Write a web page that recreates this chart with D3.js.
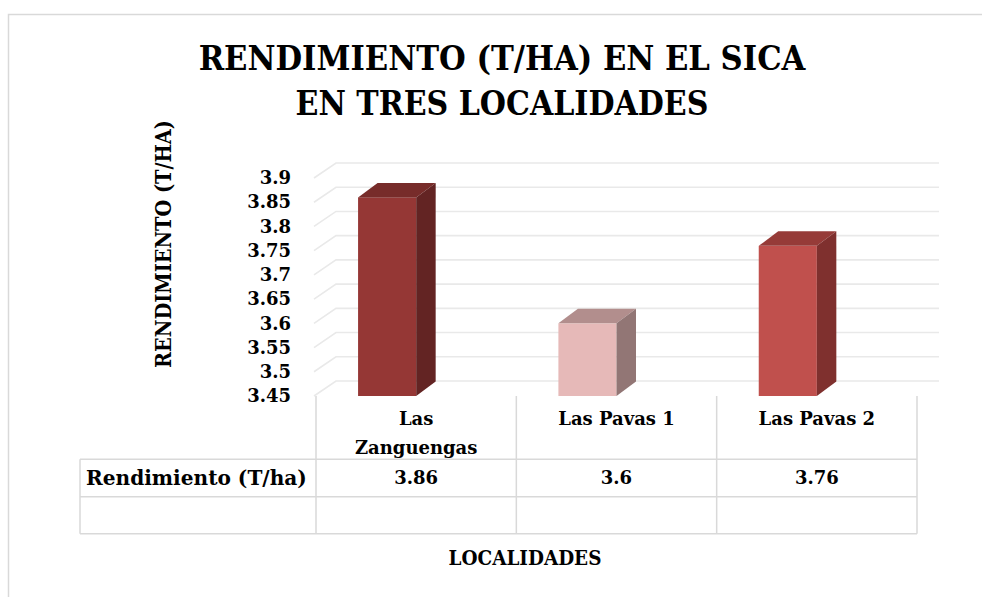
<!DOCTYPE html>
<html>
<head>
<meta charset="utf-8">
<script src="https://cdn.jsdelivr.net/npm/d3@7"></script>
<style>
    body { margin: 0; background: #fff; }
    svg text { font-family: 'DejaVu Serif', serif; font-weight: bold; fill: #000; }
    svg text.cond { font-family: 'DejaVu Serif Condensed', 'DejaVu Serif', serif; font-stretch: condensed; }
</style>
</head>
<body>
<div id="chart"></div>
<script>
// data
const categories = ['Las Zanguengas', 'Las Pavas 1', 'Las Pavas 2'];
const categoryLines = [['Las', 'Zanguengas'], ['Las Pavas 1'], ['Las Pavas 2']];
const values = [3.86, 3.6, 3.76];
const valueLabels = ['3.86', '3.6', '3.76'];
const yTicks = [3.45, 3.5, 3.55, 3.6, 3.65, 3.7, 3.75, 3.8, 3.85, 3.9];
const yTickLabels = ['3.45', '3.5', '3.55', '3.6', '3.65', '3.7', '3.75', '3.8', '3.85', '3.9'];
const seriesName = 'Rendimiento (T/ha)';
const titleLines = ['RENDIMIENTO (T/HA) EN EL SICA', 'EN TRES LOCALIDADES'];
const yTitle = 'RENDIMIENTO (T/HA)';
const xTitle = 'LOCALIDADES';

// front / top / side shades for each bar
const barColors = [
    { front: '#953735', top: '#772c2a', side: '#632423' },
    { front: '#e6b9b8', top: '#b28e8d', side: '#927675' },
    { front: '#c0504d', top: '#963b38', side: '#7f302e' }
];

class BarChart3D {

    constructor() {
        this.width = 982;
        this.height = 597;
        this.svg = d3.select('#chart').append('svg')
            .attr('width', this.width)
            .attr('height', this.height);

        this.x = d3.scaleBand()
            .domain(categories)
            .range([316, 917])
            .padding(0);
        this.y = d3.scaleLinear()
            .domain([3.45, 3.9])
            .range([396, 178]);

        this.depth = { dx: 22, dy: -15 };    // wall depth
        this.barDepth = { dx: 19.5, dy: -14.5 };
        this.gridColor = '#e9e9e9';
        this.lineColor = '#d9d9d9';
        this.draw();
    }

    // shrink or grow the font so the text spans the wanted width
    fit(sel, target) {
        let size = parseFloat(sel.style('font-size'));
        let w = sel.node().getComputedTextLength();
        sel.style('font-size', `${size * target / w}px`);
        return sel;
    }

    draw() {
        let self = this;
        let svg = self.svg;
        let x = self.x, y = self.y;

        svg.append('rect')
            .attr('x', 8.5)
            .attr('y', 14.5)
            .attr('width', 1200)
            .attr('height', 1000)
            .attr('fill', 'none')
            .attr('stroke', self.lineColor)
            .attr('stroke-width', 1.5);

        // title
        titleLines.forEach((t, i) => {
            let txt = svg.append('text')
                .text(t)
                .attr('class', 'cond')
                .attr('x', 502)
                .attr('y', i === 0 ? 70 : 115)
                .attr('text-anchor', 'middle')
                .style('font-size', '32px');
            self.fit(txt, i === 0 ? 607 : 413);
        });

        // side wall + back wall gridlines
        let x0 = x.range()[0] - 2;
        let xBack = x.range()[1] + self.depth.dx;
        let grid = svg.append('g').attr('class', 'grid');
        grid.selectAll('path')
            .data(yTicks)
            .enter()
            .append('path')
            .attr('d', d => `M${x0},${y(d)} L${x0 + self.depth.dx},${y(d) + self.depth.dy} L${xBack},${y(d) + self.depth.dy}`)
            .attr('fill', 'none')
            .attr('stroke', self.gridColor)
            .attr('stroke-width', 1.6);

        // y axis labels
        let yAxis = d3.axisLeft(y)
            .tickValues(yTicks)
            .tickFormat((d, i) => yTickLabels[i])
            .tickSize(0)
            .tickPadding(0);
        let yg = svg.append('g')
            .attr('transform', 'translate(291,0)')
            .call(yAxis);
        yg.select('.domain').remove();
        yg.selectAll('text')
            .style('font-family', 'DejaVu Serif, serif')
            .style('font-weight', 'bold')
            .style('font-size', '18px')
            .attr('fill', '#000');

        let yt = svg.append('text')
            .text(yTitle)
            .attr('class', 'cond')
            .attr('transform', 'translate(163,244) rotate(-90)')
            .attr('text-anchor', 'middle')
            .attr('dy', '0.35em')
            .style('font-size', '18px');
        self.fit(yt, 248);

        // bars
        let bw = x.bandwidth() * 0.29;
        let off = x.bandwidth() * 0.21;
        let bd = self.barDepth;
        let base = y(3.45);
        let bars = svg.append('g').attr('class', 'bars')
            .selectAll('g')
            .data(values)
            .enter()
            .append('g');
        bars.append('rect')
            .attr('x', (d, i) => x(categories[i]) + off)
            .attr('y', d => y(d))
            .attr('width', bw)
            .attr('height', d => base - y(d))
            .attr('fill', (d, i) => barColors[i].front);
        bars.append('path')
            .attr('d', (d, i) => {
                let l = x(categories[i]) + off, t = y(d);
                return `M${l},${t} L${l + bw},${t} L${l + bw + bd.dx},${t + bd.dy} L${l + bd.dx},${t + bd.dy} Z`;
            })
            .attr('fill', (d, i) => barColors[i].top);
        bars.append('path')
            .attr('d', (d, i) => {
                let r = x(categories[i]) + off + bw, t = y(d);
                return `M${r},${t} L${r + bd.dx},${t + bd.dy} L${r + bd.dx},${base + bd.dy} L${r},${base} Z`;
            })
            .attr('fill', (d, i) => barColors[i].side);

        // data table
        let rows = [396, 459.3, 496.7, 533.7];
        let tableLeft = 80;
        let table = svg.append('g').attr('class', 'table')
            .attr('stroke', self.lineColor)
            .attr('stroke-width', 1.5);
        let cols = categories.map(c => x(c)).concat([x.range()[1]]);
        table.selectAll('.vline')
            .data(cols)
            .enter()
            .append('line')
            .attr('x1', d => d).attr('x2', d => d)
            .attr('y1', rows[0]).attr('y2', rows[3]);
        table.append('line')
            .attr('x1', tableLeft).attr('x2', tableLeft)
            .attr('y1', rows[1]).attr('y2', rows[3]);
        table.selectAll('.hline')
            .data(rows.slice(1))
            .enter()
            .append('line')
            .attr('x1', tableLeft).attr('x2', x.range()[1])
            .attr('y1', d => d).attr('y2', d => d);

        // category labels
        categories.forEach((c, i) => {
            let cx = x(c) + x.bandwidth() / 2;
            categoryLines[i].forEach((ln, j) => {
                svg.append('text')
                    .text(ln)
                    .attr('x', cx)
                    .attr('y', 419 + j * 29)
                    .attr('dy', '0.35em')
                    .attr('text-anchor', 'middle')
                    .style('font-size', '18px');
            });
            svg.append('text')
                .text(valueLabels[i])
                .attr('x', cx)
                .attr('y', 478)
                .attr('dy', '0.35em')
                .attr('text-anchor', 'middle')
                .style('font-size', '18px');
        });

        let rl = svg.append('text')
            .text(seriesName)
            .attr('x', 86)
            .attr('y', 478)
            .attr('dy', '0.35em')
            .style('font-size', '18px');
        self.fit(rl, 221);

        let xt = svg.append('text')
            .text(xTitle)
            .attr('class', 'cond')
            .attr('x', 525)
            .attr('y', 565)
            .attr('text-anchor', 'middle')
            .style('font-size', '18px');
        self.fit(xt, 153);
    }

}

new BarChart3D();
</script>
</body>
</html>
